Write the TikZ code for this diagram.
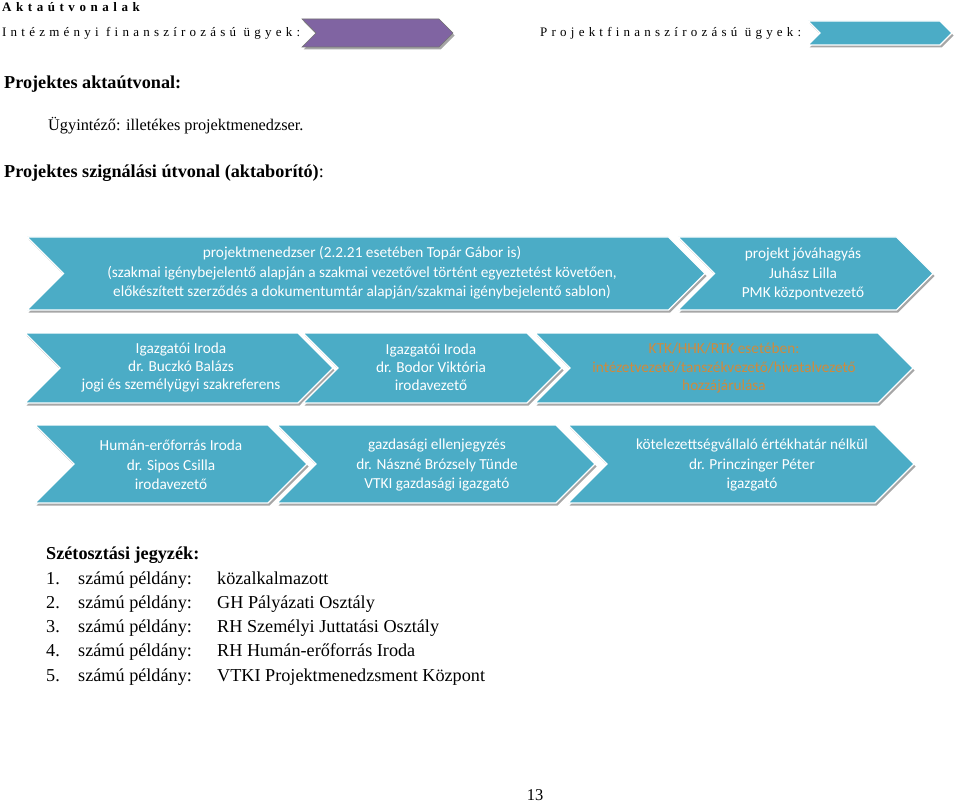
\documentclass[tikz,border=0pt]{standalone}
\usepackage{fontspec}
\setmainfont{Liberation Serif}
\newfontfamily\calfont{Carlito}
\newfontfamily\spacedfont[LetterSpace=35]{Liberation Serif}
\newfontfamily\spacedfontb[LetterSpace=32.5]{Liberation Serif}
\definecolor{chevblue}{RGB}{75,172,198}
\definecolor{chevpurple}{RGB}{128,100,162}
\definecolor{chevorange}{RGB}{208,138,60}
\newcommand\chevshape[5]{% left, tip, top, bottom, fill style
  \pgfmathsetmacro\cd{(#4-#3)/2}%
  \pgfmathsetmacro\cm{(#4+#3)/2}%
  \fill[black,opacity=0.35] ({#1+1.5},{#3+2.5}) -- ({#2-\cd+1.5},{#3+2.5}) -- ({#2+1.5},{\cm+2.5}) -- ({#2-\cd+1.5},{#4+2.5}) -- ({#1+1.5},{#4+2.5}) -- ({#1+\cd+1.5},{\cm+2.5}) -- cycle;
  \path[#5] (#1,#3) -- ({#2-\cd},#3) -- (#2,\cm) -- ({#2-\cd},#4) -- (#1,#4) -- ({#1+\cd},\cm) -- cycle;
}
\tikzset{
  bluechev/.style={fill=chevblue,draw=white,line width=1.3pt,line join=miter},
  purplechev/.style={fill=chevpurple,draw=black!55,line width=0.6pt},
  chevtext/.style={inner sep=0,align=center,text=white,font=\calfont\fontsize{15.3}{19.5}\selectfont},
  bodytext/.style={inner sep=0,anchor=base west,font=\fontsize{18.2}{21}\selectfont},
  boldtext/.style={bodytext,font=\fontsize{18.2}{21}\selectfont\bfseries},
}
\begin{document}
\begin{tikzpicture}[x=1pt,y=-1pt]
\path[use as bounding box,fill=white] (0,0) rectangle (960,802);
% header
\node[inner sep=0,anchor=west,font=\spacedfont\fontsize{13}{15}\selectfont\bfseries] (hdr) at (2,7) {Aktaútvonalak};
\node[inner sep=0,anchor=west,font=\spacedfontb\fontsize{13}{15}\selectfont] (inst) at (2,33) {Intézményi finanszírozású ügyek:};
\chevshape{302}{453}{19}{47}{purplechev}
\node[inner sep=0,anchor=west,font=\spacedfontb\fontsize{13}{15}\selectfont] (proj) at (540,33) {Projektfinanszírozású ügyek:};
\chevshape{808}{952}{21}{45}{bluechev}
% body texts
\node[boldtext] (t1) at (4,89) {Projektes aktaútvonal:};
\node[bodytext,font=\fontsize{16.3}{20}\selectfont] (t2) at (48,131) {Ügyintéző: illetékes projektmenedzser.};
\node[bodytext] (t3) at (4,178) {\textbf{Projektes szignálási útvonal (aktaborító)}:};
% row 1
\chevshape{27}{705}{237}{310}{bluechev}
\chevshape{678}{933}{237}{310}{bluechev}
\node[chevtext] (r1a) at (362,273) {projektmenedzser (2.2.21 esetében Topár Gábor is)\\(szakmai igénybejelentő alapján a szakmai vezetővel történt egyeztetést követően,\\előkészített szerződés a dokumentumtár alapján/szakmai igénybejelentő sablon)};
\node[chevtext] (r1b) at (803,274) {projekt jóváhagyás\\Juhász Lilla\\PMK központvezető};
% row 2
\chevshape{25}{333}{333}{403}{bluechev}
\chevshape{303}{562}{333}{403}{bluechev}
\chevshape{535}{913}{333}{403}{bluechev}
\node[chevtext,font=\calfont\fontsize{15.3}{18}\selectfont] (r2a) at (181,368) {Igazgatói Iroda\\dr. Buczkó Balázs\\jogi és személyügyi szakreferens};
\node[chevtext,font=\calfont\fontsize{15.3}{18}\selectfont] (r2b) at (431,367) {Igazgatói Iroda\\dr. Bodor Viktória\\irodavezető};
\node[chevtext,text=chevorange,font=\calfont\fontsize{15.3}{18.5}\selectfont] (r2c) at (724,368) {KTK/HHK/RTK esetében:\\intézetvezető/tanszékvezető/hivatalvezető\\hozzájárulása};
% row 3
\chevshape{35}{307}{425}{503}{bluechev}
\chevshape{277}{595}{425}{503}{bluechev}
\chevshape{568}{914}{425}{503}{bluechev}
\node[chevtext] (r3a) at (171,465) {Humán-erőforrás Iroda\\dr. Sipos Csilla\\irodavezető};
\node[chevtext] (r3b) at (437,465) {gazdasági ellenjegyzés\\dr. Nászné Brózsely Tünde\\VTKI gazdasági igazgató};
\node[chevtext] (r3c) at (752,465) {kötelezettségvállaló értékhatár nélkül\\dr. Princzinger Péter\\igazgató};
% distribution list
\node[boldtext] (dl) at (46,559) {Szétosztási jegyzék:};
\foreach \n/\y/\v in {1/584/közalkalmazott,2/608/GH Pályázati Osztály,3/632/RH Személyi Juttatási Osztály,4/656/RH Humán-erőforrás Iroda,5/681/VTKI Projektmenedzsment Központ}{
  \node[bodytext] (num\n) at (46,\y) {\n.};
  \node[bodytext] (lab\n) at (78,\y) {számú példány:};
  \node[bodytext] (val\n) at (217,\y) {\v};
}
\node[inner sep=0,font=\fontsize{16.5}{19}\selectfont] (page) at (535,795) {13};
\end{tikzpicture}
\end{document}
